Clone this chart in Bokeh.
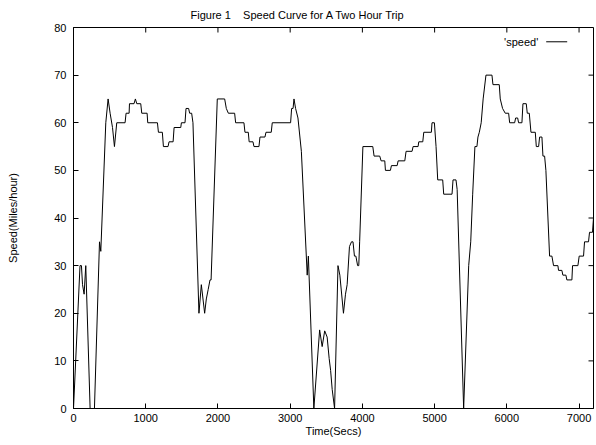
import math
from bokeh.plotting import figure
from bokeh.models import Range1d, FixedTicker, Label, Title
from bokeh.embed import file_html
from bokeh.resources import INLINE

# ---- data ----
time_secs = [0, 90, 110, 125, 147, 170, 230, 290, 360, 378, 447, 479, 507, 540,
             567, 599, 714, 728, 770, 775, 838, 857, 876, 931, 945, 1019, 1028,
             1162, 1176, 1230, 1245, 1309, 1323, 1379, 1393, 1485, 1494, 1544,
             1558, 1594, 1608, 1636, 1654, 1737, 1770, 1816, 1839, 1865, 1890,
             1905, 1991, 2093, 2116, 2144, 2231, 2245, 2360, 2374, 2420, 2432,
             2485, 2499, 2568, 2582, 2651, 2665, 2738, 2752, 3006, 3020, 3040,
             3053, 3075, 3108, 3155, 3236, 3252, 3328, 3408, 3443, 3478, 3512,
             3540, 3560, 3582, 3615, 3662, 3688, 3738, 3766, 3789, 3821, 3849,
             3870, 3890, 3910, 3934, 3950, 3962, 4007, 4144, 4162, 4240, 4259,
             4310, 4319, 4388, 4402, 4481, 4495, 4587, 4605, 4688, 4702, 4771,
             4781, 4836, 4850, 4955, 4964, 4997, 5020, 5043, 5112, 5126, 5241,
             5255, 5296, 5312, 5402, 5472, 5500, 5527, 5558, 5586, 5600, 5619,
             5645, 5672, 5711, 5794, 5808, 5895, 5909, 5941, 5978, 6025, 6039,
             6108, 6122, 6150, 6163, 6209, 6223, 6269, 6283, 6311, 6334, 6394,
             6408, 6440, 6454, 6486, 6500, 6523, 6541, 6592, 6624, 6647, 6707,
             6716, 6762, 6776, 6818, 6831, 6901, 6910, 6984, 7002, 7062, 7076,
             7131, 7145, 7186, 7200]
speed_mph = [0, 30, 30, 26, 24, 30, 0, 0, 35, 33, 60, 65, 62, 59,
             55, 60, 60, 62, 62, 64, 64, 65, 64, 64, 62, 62, 60,
             60, 58, 58, 55, 55, 56, 56, 59, 59, 60, 60,
             63, 63, 62, 62, 60, 20, 26, 20, 23, 25, 27,
             27, 65, 65, 63, 62, 62, 60, 60, 58, 58, 56,
             56, 55, 55, 57, 57, 58, 58, 60, 60, 63, 63,
             65, 63, 61, 54, 28, 32, 0, 16.5, 13, 16.3, 15,
             10.5, 8, 4, 0, 30, 28, 20, 24, 26, 34, 35,
             35, 32, 32, 30, 30, 35, 55, 55, 53, 53, 52,
             52, 50, 50, 51, 51, 52, 52, 54, 54, 55, 55,
             56, 56, 58, 58, 60, 60, 55, 48, 48, 45, 45,
             48, 48, 46, 0, 30, 35, 45, 55, 55, 57, 58,
             60, 65, 70, 70, 68, 68, 65, 63, 62, 62, 60,
             60, 61, 61, 60, 60, 64, 64, 62, 62, 58, 58,
             55, 55, 57, 57, 53, 53, 50, 32, 32, 30, 30,
             29, 29, 28, 28, 27, 27, 30, 30, 32, 32, 35,
             35, 37, 37, 40]
x_ticks = [0, 1000, 2000, 3000, 4000, 5000, 6000, 7000]
y_ticks = [0, 10, 20, 30, 40, 50, 60, 70, 80]
title_text = "Figure 1\u00a0\u00a0\u00a0\u00a0Speed Curve for A Two Hour Trip"
series_name = "'speed'"

FONT = "Liberation Sans"
FS = "11px"
X_MIN, X_MAX, Y_MIN, Y_MAX = 0, 7200, 0, 80

p = figure(width=596, height=445, output_backend="svg", toolbar_location=None,
           x_range=Range1d(X_MIN, X_MAX), y_range=Range1d(Y_MIN, Y_MAX),
           min_border_left=73, min_border_right=3, min_border_top=27,
           min_border_bottom=37)
p.background_fill_color = "white"
p.border_fill_color = "white"
p.outline_line_color = "black"
p.outline_line_width = 1
p.xgrid.visible = False
p.ygrid.visible = False

p.title = Title(text=title_text, align="left", offset=117, text_font=FONT,
                text_font_size=FS, text_font_style="normal", text_color="black",
                vertical_align="top", standoff=10)

def style_axis(ax, ticks):
    ax.ticker = FixedTicker(ticks=ticks)
    ax.minor_tick_line_color = None
    ax.major_tick_in = 5
    ax.major_tick_out = 0
    ax.major_tick_line_color = "black"
    ax.axis_line_color = "black"
    ax.major_label_text_font = FONT
    ax.major_label_text_font_size = FS
    ax.major_label_text_color = "black"
    ax.axis_label_text_font = FONT
    ax.axis_label_text_font_size = FS
    ax.axis_label_text_font_style = "normal"
    ax.axis_label_text_color = "black"

xa = p.below[0]
style_axis(xa, x_ticks)
xa.axis_label = "Time(Secs)"
xa.major_label_standoff = 5
xa.axis_label_standoff = 0

ya = p.left[0]
style_axis(ya, y_ticks)
ya.axis_label = "Speed(Miles/hour)"
ya.major_label_standoff = 7
ya.axis_label_standoff = 32

# mirrored inward ticks on the top and right edges (gnuplot style)
p.ray(x=x_ticks, y=[Y_MAX] * len(x_ticks), length=5, length_units="screen",
      angle=-math.pi / 2, line_color="black", line_width=1)
p.ray(x=[X_MAX] * len(y_ticks), y=y_ticks, length=5, length_units="screen",
      angle=math.pi, line_color="black", line_width=1)

r = p.line(time_secs, speed_mph, line_color="black", line_width=1)

# key: text at left, line sample at right (gnuplot style)
KEY_X, KEY_Y = 6435, 77.0
p.add_layout(Label(x=KEY_X, y=KEY_Y, text=series_name, text_font=FONT,
                   text_font_size=FS, text_align="right",
                   text_baseline="middle", text_color="black"))
p.ray(x=[6545], y=[KEY_Y], length=21, length_units="screen", angle=0,
      line_color="black", line_width=1)

open("out.html", "w").write(file_html(p, INLINE))
